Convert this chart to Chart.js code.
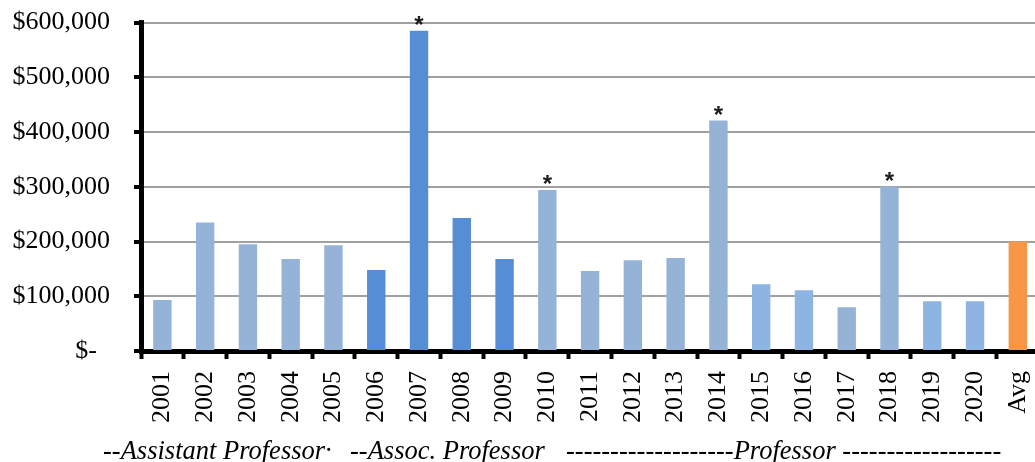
<!DOCTYPE html>
<html>
<head>
<meta charset="utf-8">
<script src="https://cdn.jsdelivr.net/npm/chart.js@4/dist/chart.umd.min.js"></script>
<style>
  html, body { margin: 0; padding: 0; background: #fff; overflow: hidden; }
  #wrap { position: relative; width: 1035px; height: 462px; overflow: hidden; }
  #chart { position: absolute; left: 0; top: -17px; }
  .group {
    position: absolute; top: 437px; white-space: pre;
    font: italic 26.5px/26.5px "Liberation Serif", "Times New Roman", serif; color: #000;
  }
</style>
</head>
<body>
<div id="wrap">
  <canvas id="chart" width="1061" height="479"></canvas>
  <div class="group" id="g0" style="left:103px"></div>
  <div class="group" id="g1" style="left:350px"></div>
  <div class="group" id="g2" style="left:566px"></div>
</div>
<script>
// data
var years = ['2001', '2002', '2003', '2004', '2005', '2006', '2007', '2008', '2009', '2010',
  '2011', '2012', '2013', '2014', '2015', '2016', '2017', '2018', '2019', '2020', 'Avg'];
var funding = [93000, 235000, 195000, 168000, 193000, 148000, 585000, 243000, 168000, 294000,
  146000, 166000, 170000, 421000, 122000, 111000, 80000, 300000, 91000, 91000, 200000];
var starredYears = ['2007', '2010', '2014', '2018'];
var yTickLabels = ['$-  ', '$100,000', '$200,000', '$300,000', '$400,000', '$500,000', '$600,000'];
var groupLabels = ['--Assistant Professor\u00b7', '--Assoc. Professor',
  '-------------------Professor ------------------'];

// bar colours (style only)
var barColors = ['#95B3D7', '#95B3D7', '#95B3D7', '#95B3D7', '#95B3D7',
  '#558ED5', '#558ED5', '#558ED5', '#558ED5',
  '#95B3D7', '#95B3D7', '#95B3D7', '#95B3D7', '#95B3D7',
  '#8EB4E3', '#8EB4E3', '#95B3D7', '#95B3D7', '#8EB4E3', '#8EB4E3',
  '#F79646'];

groupLabels.forEach(function(t, i) {
  document.getElementById('g' + i).textContent = t;
});

var starPlugin = {
  id: 'stars',
  afterDatasetsDraw: function(chart) {
    var ctx = chart.ctx;
    var meta = chart.getDatasetMeta(0);
    ctx.save();
    ctx.fillStyle = '#1a1a1a';
    ctx.font = 'bold 24px "Liberation Sans", Arial, sans-serif';
    ctx.textAlign = 'center';
    ctx.textBaseline = 'alphabetic';
    years.forEach(function(y, i) {
      if (starredYears.indexOf(y) === -1) return;
      var bar = meta.data[i];
      ctx.fillText('*', bar.x, bar.y + 2);
    });
    ctx.restore();
  }
};

var ctx = document.getElementById('chart').getContext('2d');
var chart = new Chart(ctx, {
  type: 'bar',
  data: {
    labels: years,
    datasets: [{
      data: funding,
      backgroundColor: barColors,
      barPercentage: 0.43,
      categoryPercentage: 1.0
    }]
  },
  options: {
    responsive: false,
    animation: false,
    layout: { padding: { top: 5, right: 0, bottom: 0, left: 0 } },
    plugins: {
      legend: { display: false },
      tooltip: { enabled: false }
    },
    scales: {
      x: {
        afterFit: function(scale) { scale.height = 111; },
        grid: {
          drawOnChartArea: false,
          drawTicks: true,
          tickLength: 8,
          tickColor: '#000',
          tickWidth: 4
        },
        border: { display: true, color: '#000', width: 5 },
        ticks: {
          autoSkip: false,
          minRotation: 90,
          maxRotation: 90,
          padding: 12,
          color: '#000',
          font: { family: '"Liberation Serif", "Times New Roman", serif', size: 26 }
        }
      },
      y: {
        min: 0,
        max: 600000,
        afterFit: function(scale) { scale.width = 141; },
        grid: {
          color: '#a0a0a0',
          lineWidth: 2,
          drawTicks: true,
          tickLength: 7,
          tickColor: '#000',
          tickWidth: 4
        },
        border: { display: true, color: '#000', width: 5 },
        ticks: {
          stepSize: 100000,
          padding: 24,
          color: '#000',
          font: { family: '"Liberation Serif", "Times New Roman", serif', size: 26 },
          callback: function(v, i) { return yTickLabels[i]; }
        }
      }
    }
  },
  plugins: [starPlugin]
});
</script>
</body>
</html>
